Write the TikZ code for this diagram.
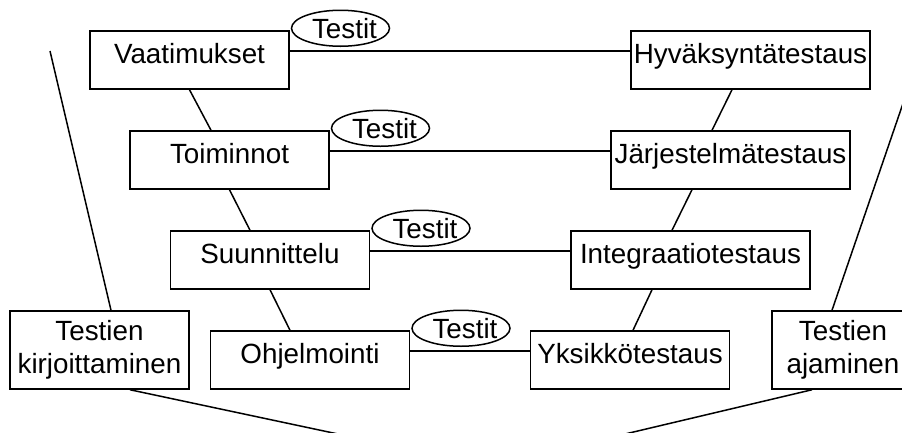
\documentclass[tikz,border=0pt]{standalone}
\usepackage{fontspec}
\setmainfont{Liberation Sans}
\usepackage{tikz}
\usetikzlibrary{positioning,shapes.geometric}

\newcommand{\testit}{\makebox[0pt]{\raisebox{-10pt}[0pt][0pt]{\hspace*{8pt}Testit}}}

\begin{document}
\begin{tikzpicture}[
  x=1pt, y=1pt,
  line width=1.5pt,
  font=\fontsize{27.8}{33}\selectfont,
  box/.style={draw, align=center, inner sep=0pt, minimum width=199pt, minimum height=58pt, text height=20pt, text depth=14pt},
  wide/.style={box, minimum width=239pt},
  side/.style={draw, align=center, inner sep=0pt, minimum height=78pt},
  tag/.style={draw, ellipse, inner sep=0pt, minimum width=98pt, minimum height=36pt}
]
  \useasboundingbox (0,0) rectangle (902,-432);
  \clip (0,0) rectangle (902,-432);

  % left leg
  \node[box] (vaat) at (189.5,-60) {Vaatimukset};
  \node[box] (toim) at (229.5,-160) {Toiminnot};
  \node[box] (suun) at (270,-260) {Suunnittelu};
  \node[box] (ohj) at (310,-360) {Ohjelmointi};

  % right leg
  \node[wide] (hyv) at (750.5,-60) {Hyväksyntätestaus};
  \node[wide] (jarj) at (730.5,-160) {Järjestelmätestaus};
  \node[wide] (integ) at (690.5,-260) {Integraatiotestaus};
  \node[box] (yks) at (630,-360) {Yksikkötestaus};

  \node[side, minimum width=179pt] (kirj) at (99.5,-350) {Testien\\kirjoittaminen};
  \node[side, minimum width=142pt] (ajam) at (843,-350) {Testien\\ajaminen};

  % test tags
  \node[tag, right=1pt of vaat.north east, yshift=2pt] (t1) {\testit};
  \node[tag, right=1pt of toim.north east, yshift=2pt] (t2) {\testit};
  \node[tag, right=1pt of suun.north east, yshift=2pt] (t3) {\testit};
  \node[tag, right=1pt of ohj.north east, yshift=2pt] (t4) {\testit};

  \coordinate (lt) at (50,-51);
  \coordinate (rt) at (921,-51);
  \coordinate (lb) at (338,-434);
  \coordinate (rb) at (625,-434);

  \draw ([yshift=9pt]vaat.east) -- ([yshift=9pt]hyv.west);
  \draw ([yshift=9pt]toim.east) -- ([yshift=9pt]jarj.west);
  \draw ([yshift=9pt]suun.east) -- ([yshift=9pt]integ.west);
  \draw ([yshift=9pt]ohj.east) -- ([yshift=9pt]yks.west);

  \draw (vaat.south) -- ([xshift=-18.5pt]toim.north);
  \draw (toim.south) -- ([xshift=-20pt]suun.north);
  \draw (suun.south) -- ([xshift=-20pt]ohj.north);
  \draw ([xshift=-18.5pt]hyv.south) -- ([xshift=-18.5pt]jarj.north);
  \draw ([xshift=-38.5pt]jarj.south) -- ([xshift=-18.5pt]integ.north);
  \draw ([xshift=-38.5pt]integ.south) -- ([xshift=3pt]yks.north);

  \draw (lt) -- ([xshift=11.5pt]kirj.north);
  \draw ([xshift=-11pt]ajam.north) -- (rt);
  \draw ([xshift=30.5pt]kirj.south) -- (lb);
  \draw ([xshift=-31pt]ajam.south) -- (rb);
\end{tikzpicture}
\end{document}
